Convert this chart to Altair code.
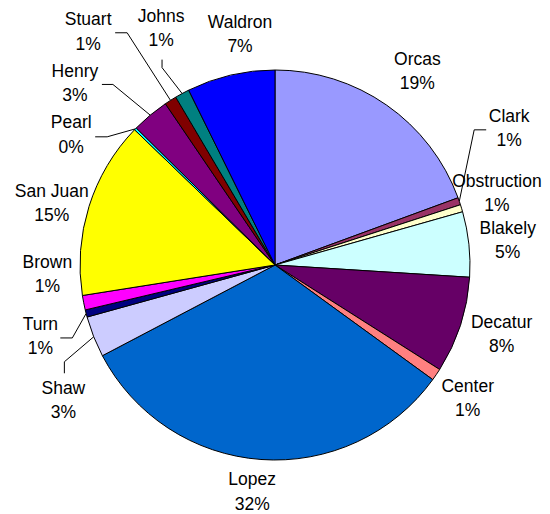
import math
import altair as alt
import pandas as pd

islands = ["Orcas", "Clark", "Obstruction", "Blakely", "Decatur", "Center", "Lopez",
           "Shaw", "Turn", "Brown", "San Juan", "Pearl", "Henry", "Stuart", "Johns", "Waldron"]
shares = [19.4, 0.6, 0.6, 5.4, 8.0, 1.0, 32.3, 3.4, 0.6, 1.2, 14.7, 0.2, 3.1, 1.0, 1.2, 7.3]
pct_labels = ["19%", "1%", "1%", "5%", "8%", "1%", "32%", "3%", "1%", "1%", "15%", "0%",
              "3%", "1%", "1%", "7%"]
colors = ["#9999FF", "#993366", "#FFFFCC", "#CCFFFF", "#660066", "#FF8080", "#0066CC",
          "#CCCCFF", "#000080", "#FF00FF", "#FFFF00", "#00FFFF", "#800080", "#800000",
          "#008080", "#0000FF"]

# layout (not data)
W, H = 550, 514
CX, CY = 275, 265
R = 195
LABEL_R = 233
LINE_H = 24.5
nudges = {
    "Orcas": (9, -2), "Clark": (14, -60), "Obstruction": (-1, -3), "Blakely": (1, 1),
    "Decatur": (5, -2), "Center": (0, 3), "Lopez": (-6, -5), "Shaw": (5, 50),
    "Turn": (-9, 14), "Brown": (1, -35), "San Juan": (-1, 9), "Pearl": (-37, 33),
    "Henry": (-51, -2), "Stuart": (-62, -36), "Johns": (-3, -31), "Waldron": (18, -3),
}
leaders = {
    "Clark": ((-35, 1), (-23, 1)),
    "Turn": ((32, 1), (20, 1)),
    "Shaw": ((1, -39), (1, -27.5)),
    "Pearl": ((36, 1.5), (24, 1.5)),
    "Henry": ((38, 0.5), (27, 0.5)),
    "Stuart": ((39, 0.5), (27, 0.5)),
    "Johns": ((1, 38.5), (1, 30.5)),
}

total = sum(shares)
label_rows, line_rows = [], []
cum = 0.0
for name, v, p in zip(islands, shares, pct_labels):
    mid = (cum + v / 2) / total * 2 * math.pi
    cum += v
    sx, sy = math.sin(mid), -math.cos(mid)
    dx, dy = nudges.get(name, (0, 0))
    lx = CX + LABEL_R * sx + dx
    ly = CY + LABEL_R * sy + dy
    label_rows.append({"island": name, "text": f"{name}\n{p}", "x": lx, "y": ly})
    if name in leaders:
        (ex, ey), (fx, fy) = leaders[name]
        pts = [(CX + R * sx, CY + R * sy), (lx + ex, ly + ey), (lx + fx, ly + fy)]
        for k, (px, py) in enumerate(pts):
            line_rows.append({"island": name, "k": k, "x": px, "y": py})

pie_df = pd.DataFrame({"island": islands, "share": shares, "idx": list(range(len(islands)))})
label_df = pd.DataFrame(label_rows)
line_df = pd.DataFrame(line_rows)

xs = alt.Scale(domain=[0, W], nice=False, zero=False)
ys = alt.Scale(domain=[0, H], nice=False, zero=False, reverse=True)

arc = alt.Chart(pie_df).mark_arc(outerRadius=R, stroke="black", strokeWidth=1).encode(
    theta=alt.Theta("share:Q", stack=True),
    color=alt.Color("island:N", scale=alt.Scale(domain=islands, range=colors), legend=None),
    order=alt.Order("idx:Q"),
    x=alt.value(CX),
    y=alt.value(CY),
)

leader = alt.Chart(line_df).mark_line(color="black", strokeWidth=1).encode(
    x=alt.X("x:Q", scale=xs, axis=None),
    y=alt.Y("y:Q", scale=ys, axis=None),
    detail="island:N",
    order="k:Q",
)

text = alt.Chart(label_df).mark_text(
    font="Liberation Sans", fontSize=17.5, lineBreak="\n", lineHeight=LINE_H,
    align="center", baseline="middle", color="black", dy=-LINE_H / 2,
).encode(
    x=alt.X("x:Q", scale=xs, axis=None),
    y=alt.Y("y:Q", scale=ys, axis=None),
    text="text:N",
)

chart = alt.layer(arc, leader, text).properties(
    width=W, height=H, padding=0, autosize="none", background="white"
).configure_view(stroke=None)

chart.save("out.html", embed_options={"renderer": "svg", "actions": False})
